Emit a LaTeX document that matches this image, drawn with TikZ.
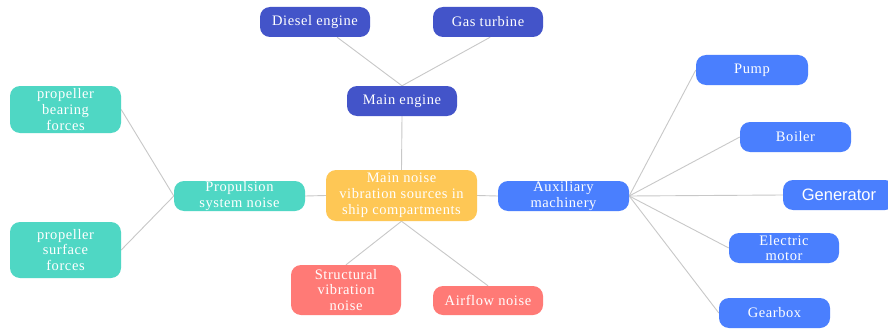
\documentclass[tikz,border=0pt]{standalone}
\usepackage{fontspec}
\setmainfont{Liberation Serif}[LetterSpace=4]
\newfontfamily\gensans{Liberation Sans}
\usetikzlibrary{calc,backgrounds}
\definecolor{navyblue}{HTML}{4354C9}
\definecolor{tealgreen}{HTML}{4FD7C4}
\definecolor{sunyellow}{HTML}{FEC755}
\definecolor{salmonred}{HTML}{FF7A76}
\definecolor{brightblue}{HTML}{4A7FFE}
\definecolor{linkgray}{HTML}{C8C8C8}
\tikzset{
  topic/.style={rounded corners=10pt, text=white, align=center, inner sep=0pt,
    font=\fontsize{14.5}{15.8}\selectfont, minimum height=30pt, minimum width=110pt},
  engine/.style={topic, fill=navyblue},
  propel/.style={topic, fill=tealgreen},
  hub/.style={topic, fill=sunyellow},
  flow/.style={topic, fill=salmonred},
  aux/.style={topic, fill=brightblue},
  link/.style={draw=linkgray, line width=0.9pt}
}
\begin{document}
\begin{tikzpicture}[x=1pt,y=-1pt]
\useasboundingbox (0,0) rectangle (888,329);
% main branches and their topics
\node[engine] (diesel) at (315,22) {Diesel engine};
\node[engine] (gas) at (488,22) {Gas turbine};
\node[engine] (main) at (402,101) {Main engine};
\node[hub, minimum width=151pt, minimum height=51pt] (hub) at (401.5,195.5)
  {Main noise\\vibration sources in\\ship compartments};
\node[propel, minimum width=131pt] (prop) at (239.5,196) {Propulsion\\system noise};
\node[propel, minimum width=111pt, minimum height=47pt] (bearing) at (65.5,109.5)
  {propeller\\bearing\\forces};
\node[propel, minimum width=111pt, minimum height=56pt] (surface) at (65.5,250)
  {propeller\\surface\\forces};
\node[flow, minimum height=50pt] (struct) at (346,290) {Structural\\vibration\\noise};
\node[flow, minimum height=29pt] (airflow) at (488,300.5) {Airflow noise};
\node[aux, minimum width=131pt] (auxm) at (563.5,196) {Auxiliary\\machinery};
\node[aux, minimum width=112pt] (pump) at (752,70) {Pump};
\node[aux, minimum width=111pt] (boiler) at (795.5,137) {Boiler};
\node[aux, minimum width=112pt, font=\gensans\fontsize{16.5}{18}\selectfont] (gen) at (839,195) {Generator};
\node[aux] (motor) at (784,248) {Electric\\motor};
\node[aux, minimum width=111pt] (gearbox) at (774.5,313) {Gearbox};
% connectors behind the boxes
\begin{scope}[on background layer]
  \fill[white] (0,0) rectangle (888,329);
  \draw[link] ($(diesel.south west)!0.7!(diesel.south east)$) -- (main.north);
  \draw[link] ($(gas.south west)!0.52!(gas.south east)$) -- (main.north);
  \draw[link] (main.south) -- (hub.north);
  \draw[link] (hub.west) -- (prop.east);
  \draw[link] (hub.east) -- (auxm.west);
  \draw[link] (hub.south) -- (struct.north);
  \draw[link] (hub.south) -- (airflow.north);
  \draw[link] (prop.west) -- (bearing.east);
  \draw[link] (prop.west) -- (surface.east);
  \draw[link] (auxm.east) -- (pump.west);
  \draw[link] (auxm.east) -- (boiler.west);
  \draw[link] (auxm.east) -- (gen.west);
  \draw[link] (auxm.east) -- (motor.west);
  \draw[link] (auxm.east) -- (gearbox.west);
\end{scope}
\end{tikzpicture}
\end{document}
